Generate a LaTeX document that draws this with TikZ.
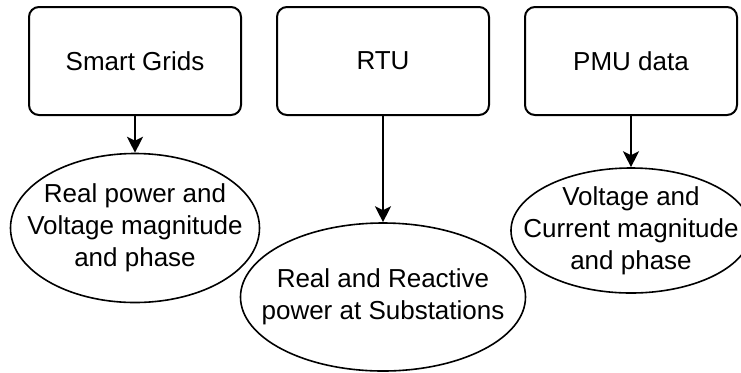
\documentclass[tikz,border=0pt]{standalone}
\usepackage{fontspec}
\setmainfont{Liberation Sans}
\usetikzlibrary{arrows.meta,shapes.geometric}

\begin{document}
\begin{tikzpicture}[x=0.5pt,y=-0.5pt,
  src/.style={draw,rectangle,rounded corners=5pt,line width=1pt,minimum width=106pt,
              minimum height=54pt,font=\fontsize{13}{16}\selectfont},
  res/.style={draw,ellipse,line width=0.8pt,inner sep=0pt},
  txt/.style={font=\fontsize{13}{16}\selectfont,align=center},
  arr/.style={-{Stealth[length=8pt,width=8pt,inset=2pt]},line width=1pt}
]
\useasboundingbox (0,0) rectangle (741,372);

% Data sources
\node[src] (grid) at (135,61) {Smart Grids};
\node[src] (rtu) at (383,61) {RTU};
\node[src] (pmu) at (631,61) {PMU data};

% Measured quantities
\node[res,minimum width=124.5pt,minimum height=74.5pt,
      label={[txt]center:{Real power and\\Voltage magnitude\\and phase}}] (gridq) at (135,228) {};
\node[res,minimum width=142.5pt,minimum height=74pt,
      label={[txt]center:{Real and Reactive\\power at Substations}}] (rtuq) at (383,297) {};
\node[res,minimum width=120pt,minimum height=62.5pt,
      label={[txt]center:{Voltage and\\Current magnitude\\and phase}}] (pmuq) at (631,230.5) {};

% Arrows
\draw[arr] (grid) -- (gridq);
\draw[arr] (rtu) -- (rtuq);
\draw[arr] (pmu) -- (pmuq);

\end{tikzpicture}
\end{document}
